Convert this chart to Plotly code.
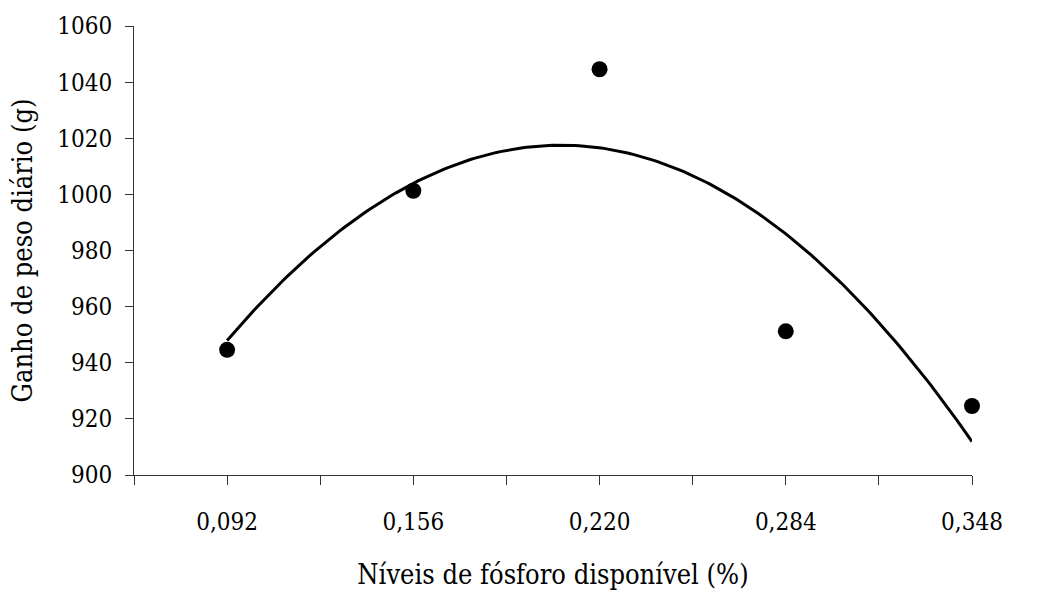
import numpy as np
import plotly.graph_objects as go

# Available phosphorus levels (%) and mean daily weight gain (g)
fosforo = [0.092, 0.156, 0.220, 0.284, 0.348]
ganho = [944.6, 1001.3, 1044.6, 951.2, 924.6]

# Axis ticks: every 0.032, labels on every other tick
x_ticks = [0.060, 0.092, 0.124, 0.156, 0.188, 0.220, 0.252, 0.284, 0.316, 0.348]
x_labels = ["", "0,092", "", "0,156", "", "0,220", "", "0,284", "", "0,348"]
y_ticks = [900, 920, 940, 960, 980, 1000, 1020, 1040, 1060]

# Quadratic regression trendline fitted to the observed means
coef = np.polyfit(fosforo, ganho, 2)
x_fit = np.linspace(fosforo[0], fosforo[-1], 200)
y_fit = np.polyval(coef, x_fit)

FONT = "DejaVu Serif Condensed, DejaVu Serif"

fig = go.Figure()
fig.add_trace(go.Scatter(
    x=x_fit, y=y_fit, mode="lines",
    line=dict(color="black", width=3),
    hoverinfo="skip", showlegend=False, cliponaxis=False,
))
fig.add_trace(go.Scatter(
    x=fosforo, y=ganho, mode="markers",
    marker=dict(color="black", size=16, symbol="circle"),
    showlegend=False, cliponaxis=False,
))

fig.update_layout(
    width=1060, height=597,
    margin=dict(l=134, r=88, t=22, b=120),
    paper_bgcolor="white", plot_bgcolor="white",
    font=dict(family=FONT, size=24, color="black"),
    xaxis=dict(
        range=[0.060, 0.348],
        tickmode="array", tickvals=x_ticks, ticktext=x_labels,
        ticks="outside", ticklen=9, tickwidth=1, tickcolor="#333",
        showline=True, linecolor="#333", linewidth=1,
        showgrid=False, zeroline=False,
        ticklabelstandoff=16,
        tickfont=dict(family=FONT, size=24),
        title=dict(text="Níveis de fósforo disponível (%)", standoff=30,
                   font=dict(family=FONT, size=27)),
    ),
    yaxis=dict(
        range=[900, 1060],
        tickmode="array", tickvals=y_ticks,
        ticks="outside", ticklen=8, tickwidth=1, tickcolor="#333",
        showline=True, linecolor="#333", linewidth=1,
        showgrid=False, zeroline=False,
        ticklabelstandoff=8,
        tickfont=dict(family=FONT, size=24),
        title=dict(text="Ganho de peso diário (g)", standoff=16,
                   font=dict(family=FONT, size=27)),
    ),
)

fig.write_html("out.html")
